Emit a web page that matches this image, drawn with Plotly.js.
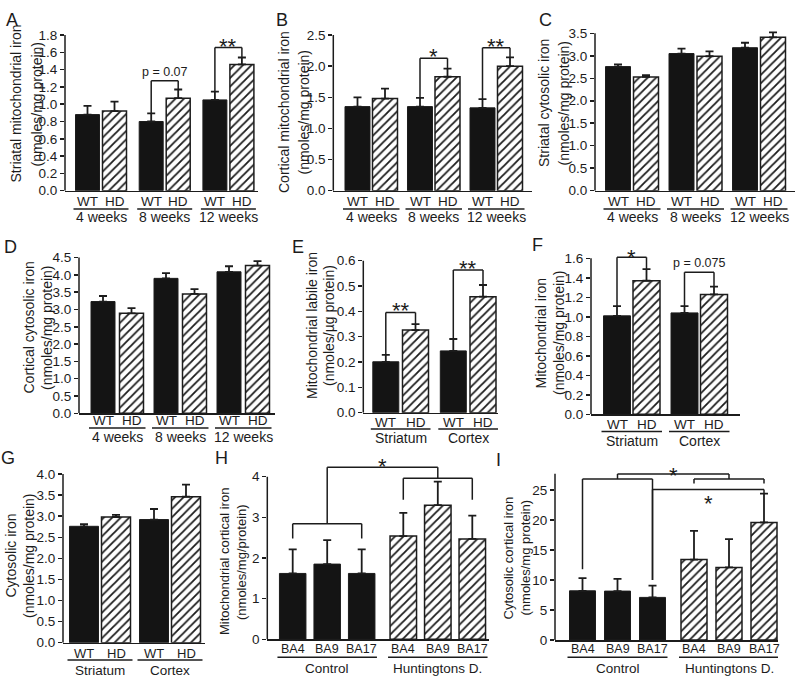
<!DOCTYPE html>
<html><head><meta charset="utf-8">
<script src="https://cdn.plot.ly/plotly-3.0.1.min.js"></script>
<style>html,body{margin:0;padding:0;background:#fff}</style>
</head><body><div id="chart" style="width:800px;height:679px"></div>
<script>
// ---------------- data ----------------
const weekGroups = ['4 weeks', '8 weeks', '12 weeks'];
const tissueGroups = ['Striatum', 'Cortex'];
const subjectGroups = ['Control', 'Huntingtons D.'];
const genotypeTicks = ['WT', 'HD'];
const areaTicks = ['BA4', 'BA9', 'BA17'];

// A striatal mitochondrial iron
const A_WT = [0.88, 0.80, 1.05], A_WT_err = [0.10, 0.095, 0.095];
const A_HD = [0.92, 1.07, 1.46], A_HD_err = [0.11, 0.10, 0.08];
// B cortical mitochondrial iron
const B_WT = [1.35, 1.35, 1.33], B_WT_err = [0.15, 0.14, 0.14];
const B_HD = [1.48, 1.83, 2.00], B_HD_err = [0.16, 0.13, 0.14];
// C striatal cytosolic iron
const C_WT = [2.76, 3.05, 3.18], C_WT_err = [0.05, 0.11, 0.11];
const C_HD = [2.53, 2.99, 3.41], C_HD_err = [0.04, 0.11, 0.11];
// D cortical cytosolic iron
const D_WT = [3.23, 3.90, 4.09], D_WT_err = [0.16, 0.15, 0.16];
const D_HD = [2.89, 3.45, 4.27], D_HD_err = [0.15, 0.14, 0.13];
// E mitochondrial labile iron
const E_WT = [0.201, 0.244], E_WT_err = [0.027, 0.047];
const E_HD = [0.326, 0.458], E_HD_err = [0.024, 0.046];
// F mitochondrial iron
const F_WT = [1.01, 1.04], F_WT_err = [0.10, 0.07];
const F_HD = [1.37, 1.23], F_HD_err = [0.12, 0.08];
// G cytosolic iron
const G_WT = [2.76, 2.92], G_WT_err = [0.05, 0.25];
const G_HD = [2.98, 3.46], G_HD_err = [0.05, 0.29];
// H mitochondrial cortical iron (human)
const H_CTL = [1.62, 1.85, 1.62], H_CTL_err = [0.59, 0.59, 0.59];
const H_HD = [2.54, 3.30, 2.47], H_HD_err = [0.57, 0.58, 0.57];
// I cytosolic cortical iron (human)
const I_CTL = [8.2, 8.15, 7.1], I_CTL_err = [2.1, 2.05, 1.95];
const I_HD = [13.4, 12.1, 19.6], I_HD_err = [4.8, 4.7, 4.8];

// significance brackets: a/b = [series, point]; la/lb = leg bottoms (null = top of error bar)
const A_sig = [{a:[0,1], b:[1,1], y:1.27, text:'p = 0.07', dy:9.3},
               {a:[0,2], b:[1,2], y:1.655, text:'**', dy:7.7}];
const B_sig = [{a:[0,1], b:[1,1], y:2.125, text:'*', dy:8.3},
               {a:[0,2], b:[1,2], y:2.295, text:'**', dy:7.7}];
const E_sig = [{a:[0,0], b:[1,0], y:0.396, text:'**', dy:8.3},
               {a:[0,1], b:[1,1], y:0.563, text:'**', dy:7.5}];
const F_sig = [{a:[0,0], b:[1,0], y:1.61, text:'*', dy:6},
               {a:[0,1], b:[1,1], y:1.456, text:'p = 0.075', dy:9}];
const H_sig = [{a:[0,0], b:[0,2], y:2.84, la:2.48, lb:2.48},
               {a:[1,0], b:[1,2], y:3.96, la:3.43, lb:3.43},
               {a:[0,1], b:[1,1], y:4.23, la:2.84, lb:3.96, text:'*', dy:7.3}];
const I_sig = [{a:[0,0], b:[0,2], y:26.83, la:11.8, lb:10.0},
               {a:[1,0], b:[1,2], y:26.83, la:26.1, lb:26.1},
               {a:[0,1], b:[1,1], y:27.67, la:26.83, lb:26.83, text:'*', dy:5},
               {a:[0,2], b:[1,2], y:25.1, la:10.0, lb:24.4, text:'*', dy:-7.5}];

// ---------------- styling / geometry ----------------
const PW = 800, PH = 679;
const FONT = 'Arial, "Liberation Sans", sans-serif';
const INK = '#1c1c1c';
const px2x = p => p / PW;
const px2y = p => 1 - p / PH;

const panels = [
  {letter:'A', lp:[12,20], title:['Striatal mitochondrial iron','(nmoles/mg protein)'], tx:[15.5,36.5], ty:104,
   groups:weekGroups, ticks:genotypeTicks, swap:false, sig:A_sig,
   series:[{m:A_WT,e:A_WT_err,h:false},{m:A_HD,e:A_HD_err,h:true}],
   g:{ax:65,end:258,y0:190.7,yTop:35,tmax:1.8,dt:0.2,dec:1,domTop:14,first:87.5,step:27,gstep:63.7,barW:24,tkY:201,ulY:209,gY:217.5,fs:14,tfs:13.5}},
  {letter:'B', lp:[281.7,20], title:['Cortical mitochondrial iron','(nmoles/mg protein)'], tx:[284,303.5], ty:112,
   groups:weekGroups, ticks:genotypeTicks, swap:false, sig:B_sig,
   series:[{m:B_WT,e:B_WT_err,h:false},{m:B_HD,e:B_HD_err,h:true}],
   g:{ax:333.3,end:532,y0:190.7,yTop:35,tmax:2.5,dt:0.5,dec:1,domTop:14,first:357.5,step:27.5,gstep:62.5,barW:25,tkY:201,ulY:209,gY:217.5,fs:14,tfs:13.5}},
  {letter:'C', lp:[545,20], title:['Striatal cytosolic iron','(nmoles/mg protein)'], tx:[544,563.5], ty:103,
   groups:weekGroups, ticks:genotypeTicks, swap:false, sig:[],
   series:[{m:C_WT,e:C_WT_err,h:false},{m:C_HD,e:C_HD_err,h:true}],
   g:{ax:595,end:795,y0:190.7,yTop:33.3,tmax:3.5,dt:0.5,dec:1,domTop:20,first:618,step:28,gstep:63.5,barW:25,tkY:201,ulY:209,gY:217.5,fs:14,tfs:13.5}},
  {letter:'D', lp:[10,246.7], title:['Cortical cytosolic iron','(nmoles/mg protein)'], tx:[28.5,47], ty:328,
   groups:weekGroups, ticks:genotypeTicks, swap:false, sig:[],
   series:[{m:D_WT,e:D_WT_err,h:false},{m:D_HD,e:D_HD_err,h:true}],
   g:{ax:79,end:275,y0:413.3,yTop:257.6,tmax:4.5,dt:0.5,dec:1,domTop:245,first:103,step:28.5,gstep:63,barW:24,tkY:420.5,ulY:428,gY:436.5,fs:14,tfs:13.5}},
  {letter:'E', lp:[298.3,246.7], title:['Mitochondrial labile iron','(nmoles/\u00b5g protein)'], tx:[312,329], ty:326,
   groups:tissueGroups, ticks:genotypeTicks, swap:false, sig:E_sig,
   series:[{m:E_WT,e:E_WT_err,h:false},{m:E_HD,e:E_HD_err,h:true}],
   g:{ax:363.3,end:498,y0:412.7,yTop:260.7,tmax:0.6,dt:0.1,dec:1,domTop:240,first:385.8,step:29.7,gstep:67.5,barW:26,tkY:422,ulY:429,gY:437.5,fs:14,tfs:13.5}},
  {letter:'F', lp:[537,245], title:['Mitochondrial iron','(nmoles/mg protein)'], tx:[540.5,559], ty:333,
   groups:tissueGroups, ticks:genotypeTicks, swap:false, sig:F_sig,
   series:[{m:F_WT,e:F_WT_err,h:false},{m:F_HD,e:F_HD_err,h:true}],
   g:{ax:591,end:740,y0:414.3,yTop:258.3,tmax:1.6,dt:0.2,dec:1,domTop:240,first:617,step:29.5,gstep:67.5,barW:27,tkY:424,ulY:431.5,gY:441,fs:14,tfs:13.5}},
  {letter:'G', lp:[8.3,458.3], title:['Cytosolic iron','(nmoles/mg protein)'], tx:[10.5,29], ty:556,
   groups:tissueGroups, ticks:genotypeTicks, swap:false, sig:[],
   series:[{m:G_WT,e:G_WT_err,h:false},{m:G_HD,e:G_HD_err,h:true}],
   g:{ax:63,end:205,y0:642.7,yTop:474,tmax:4.0,dt:0.5,dec:1,domTop:465,first:84,step:32,gstep:70,barW:29,tkY:653,ulY:660,gY:670,fs:13.5,tfs:13}},
  {letter:'H', lp:[221.7,458.3], title:['Mitochondrial cortical iron','(nmoles/mg/protein)'], tx:[224,241], ty:562,
   groups:subjectGroups, ticks:areaTicks, swap:true, sig:H_sig,
   series:[{m:H_CTL,e:H_CTL_err,h:false},{m:H_HD,e:H_HD_err,h:true}],
   g:{ax:267.3,end:489,y0:639.3,yTop:476.7,tmax:4,dt:1,dec:0,domTop:452,first:292.7,step:34.5,gstep:110.6,barW:26.5,tkY:649.3,ulY:657.3,gY:668.3,fs:13.5,tfs:12.5,titleFs:13}},
  {letter:'I', lp:[498.3,460], title:['Cytosolic cortical iron','(nmoles/mg protein)'], tx:[507.5,524.5], ty:558,
   groups:subjectGroups, ticks:areaTicks, swap:true, sig:I_sig, lineTop:27.7,
   series:[{m:I_CTL,e:I_CTL_err,h:false},{m:I_HD,e:I_HD_err,h:true}],
   g:{ax:555,end:778,y0:640,yTop:490,tmax:25,dt:5,dec:0,domTop:452,first:582.5,step:35,gstep:111.5,barW:26,tkY:649.3,ulY:657.3,gY:668.3,fs:13.5,tfs:12.5,titleFs:13}}
];

const data = [], shapes = [], annotations = [];
const layout = {
  width: PW, height: PH, margin: {l:0, r:0, t:0, b:0},
  paper_bgcolor: 'white', plot_bgcolor: 'rgba(0,0,0,0)',
  showlegend: false, barmode: 'overlay',
  font: {family: FONT, color: INK, size: 14}
};

const line = (xref, yref, x0, y0, x1, y1, w) =>
  ({type:'line', xref, yref, x0, y0, x1, y1, line:{color:INK, width:w || 1.5}});

panels.forEach((p, k) => {
  const n = k + 1, sfx = n === 1 ? '' : String(n);
  const xa = 'x' + sfx, ya = 'y' + sfx;
  const g = p.g;
  const G = g.gstep / g.step;
  const pos = p.swap ? ((s, i) => s * G + i) : ((s, i) => i * G + s);
  const ppu = (g.y0 - g.yTop) / g.tmax;
  const yMax = (g.y0 - g.domTop) / ppu;
  const bw = g.barW / g.step;

  p.series.forEach((ser, s) => {
    const marker = ser.h
      ? {color:'white', line:{color:INK, width:1.5},
         pattern:{shape:'/', fgcolor:INK, bgcolor:'white', size:6, solidity:0.3}}
      : {color:'#141414', line:{color:INK, width:1}};
    data.push({
      type:'bar', xaxis:xa, yaxis:ya,
      x: ser.m.map((_, i) => pos(s, i)), y: ser.m, width: bw,
      marker,
      error_y:{type:'data', symmetric:false, array:ser.e, arrayminus:ser.e.map(() => 0),
               color:INK, thickness:1.8, width:4},
      hoverinfo:'skip', showlegend:false
    });
  });

  // category labels under each bar
  p.series.forEach((ser, s) => ser.m.forEach((_, i) => {
    annotations.push({xref:xa, yref:'paper', x:pos(s, i), y:px2y(g.tkY),
      text: p.swap ? p.ticks[i] : p.ticks[s], showarrow:false,
      xanchor:'center', yanchor:'middle', font:{family:FONT, size:g.tfs, color:INK}});
  }));

  layout['xaxis' + sfx] = {
    domain:[px2x(g.ax), px2x(g.end)], anchor:ya,
    range:[(g.ax - g.first) / g.step, (g.end - g.first) / g.step],
    showline:true, linecolor:INK, linewidth:1.5, ticks:'',
    showgrid:false, zeroline:false, fixedrange:true, showticklabels:false
  };
  const yt = [];
  for (let v = 0; v <= g.tmax + 1e-9; v += g.dt) yt.push(+v.toFixed(4));
  layout['yaxis' + sfx] = {
    domain:[px2y(g.y0), px2y(g.domTop)], anchor:xa,
    range:[0, yMax], showline:false, ticks:'outside', ticklen:4, tickwidth:1.5, tickcolor:INK,
    showgrid:false, zeroline:false, fixedrange:true,
    tickvals:yt, ticktext:yt.map(v => v.toFixed(g.dec)),
    tickfont:{family:FONT, size:13.5, color:INK}
  };
  // y axis line up to top tick (or given top)
  shapes.push(line(xa + ' domain', ya, 0, 0, 0, p.lineTop || g.tmax, 1.5));

  // group labels + underlines
  p.groups.forEach((name, gi) => {
    const members = p.swap ? p.series[gi].m.map((_, i) => pos(gi, i))
                           : p.series.map((_, s) => pos(s, gi));
    const lo = Math.min(...members), hi = Math.max(...members);
    const pad = bw / 2 + 2 / g.step;
    shapes.push(line(xa, 'paper', lo - pad, px2y(g.ulY), hi + pad, px2y(g.ulY), 1.4));
    annotations.push({xref:xa, yref:'paper', x:(lo + hi) / 2, y:px2y(g.gY), text:name,
      showarrow:false, xanchor:'center', yanchor:'middle', font:{family:FONT, size:g.fs, color:INK}});
  });

  // significance brackets
  p.sig.forEach(b => {
    const xa0 = pos(b.a[0], b.a[1]), xb0 = pos(b.b[0], b.b[1]);
    const sa = p.series[b.a[0]], sb = p.series[b.b[0]];
    const la = b.la != null ? b.la : sa.m[b.a[1]] + sa.e[b.a[1]];
    const lb = b.lb != null ? b.lb : sb.m[b.b[1]] + sb.e[b.b[1]];
    shapes.push(line(xa, ya, xa0, la, xa0, b.y, 1.5));
    shapes.push(line(xa, ya, xa0, b.y, xb0, b.y, 1.5));
    shapes.push(line(xa, ya, xb0, lb, xb0, b.y, 1.5));
    if (b.text) {
      const star = b.text.indexOf('*') === 0;
      const fsz = star ? 22 : 12.5;
      annotations.push({xref:xa, yref:ya, x:(xa0 + xb0) / 2, y:b.y, text:b.text, showarrow:false,
        xanchor:'center', yanchor:'middle', yshift: b.dy - (star ? 0.28 * fsz : 0),
        font:{family:FONT, size:fsz, color:INK}});
    }
  });

  // panel letter
  annotations.push({xref:'paper', yref:'paper', x:px2x(p.lp[0]), y:px2y(p.lp[1]), text:p.letter,
    showarrow:false, xanchor:'center', yanchor:'middle', font:{family:FONT, size:18, color:INK}});
  // y titles (two lines)
  p.title.forEach((t, li) => {
    annotations.push({xref:'paper', yref:'paper', x:px2x(p.tx[li]), y:px2y(p.ty), text:t,
      textangle:-90, showarrow:false, xanchor:'center', yanchor:'middle',
      font:{family:FONT, size:g.titleFs || 14, color:INK}});
  });
});

layout.shapes = shapes;
layout.annotations = annotations;
Plotly.newPlot('chart', data, layout, {staticPlot:true, displayModeBar:false});
</script></body></html>
